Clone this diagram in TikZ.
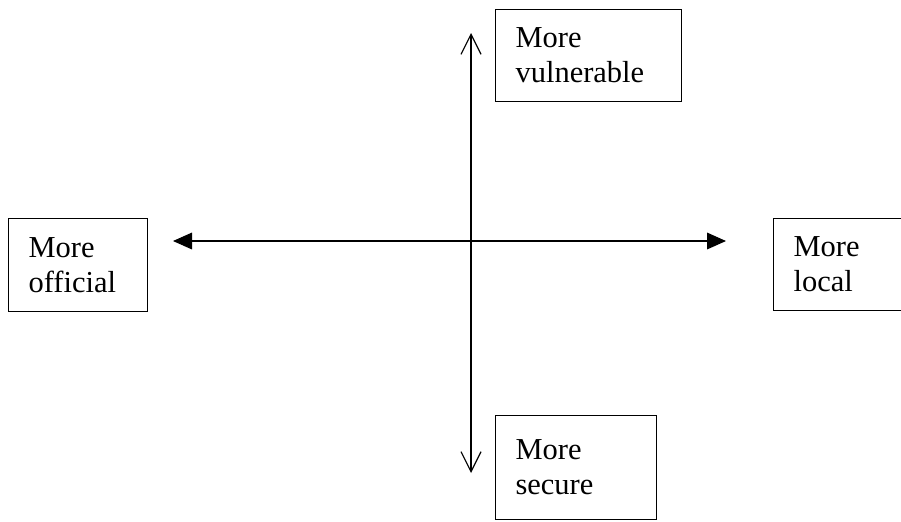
\documentclass[tikz,border=0pt]{standalone}
\usepackage{fontspec}
\setmainfont{Liberation Serif}
\usepackage{tikz}
\usetikzlibrary{positioning,arrows.meta}
\tikzset{
  quad/.style={draw, line width=1pt, anchor=north west, align=left,
               inner xsep=0.6cm, inner ysep=0pt,
               font=\fontsize{26}{29.8}\selectfont},
  vaxis/.style={{Straight Barb[length=0.6cm, width=0.6cm]}-{Straight Barb[length=0.6cm, width=0.6cm]}, line width=1pt},
  haxis/.style={{Triangle[length=0.57cm, width=0.5cm]}-{Triangle[length=0.57cm, width=0.5cm]}, line width=1pt}
}

\begin{document}
\begin{tikzpicture}[x=0.03cm, y=-0.03cm]
    \useasboundingbox (0,0) rectangle (901,521);
    \node[quad, text width=4.38cm, minimum height=2.76cm] (vuln) at (495,9) {More\\vulnerable};
    \node[quad, text width=2.97cm, minimum height=2.79cm] (official) at (8,218) {More\\official};
    \node[quad, text width=2.79cm, minimum height=2.76cm] (local) at (773,218) {More\\local};
    \node[quad, text width=3.63cm, minimum height=3.12cm] (secure) at (495,415) {More\\secure};
    \coordinate (up) at (471,33);
    \coordinate (down) at (471,473);
    \coordinate (left) at (173,241);
    \coordinate (right) at (726,241);
    \draw[vaxis] (up) -- (down);
    \draw[haxis] (left) -- (right);
\end{tikzpicture}
\end{document}
